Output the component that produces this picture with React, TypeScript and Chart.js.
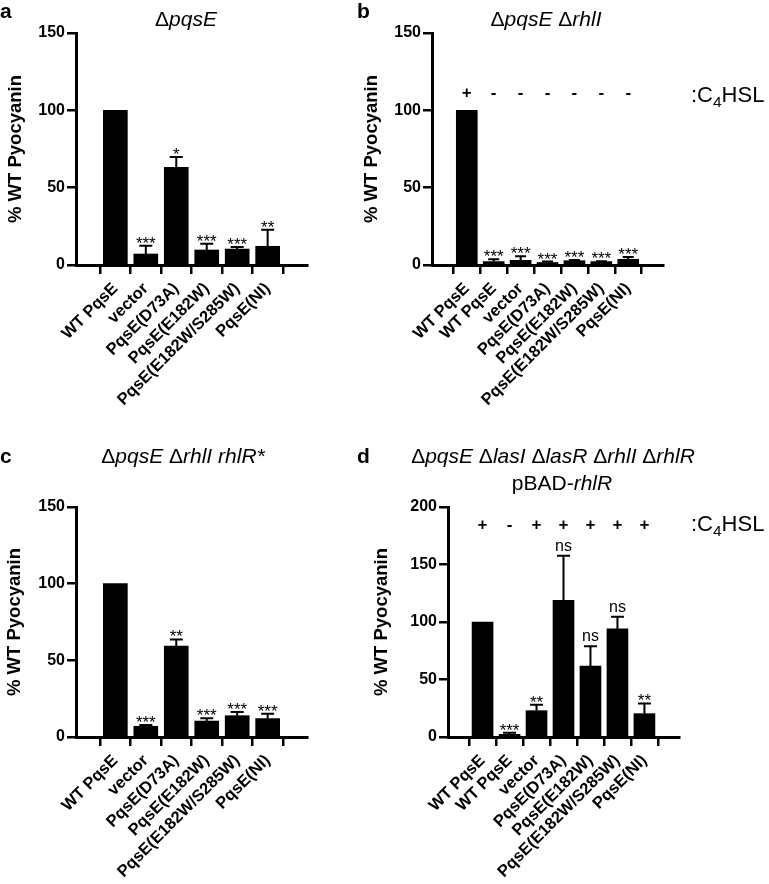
import React, { useEffect, useRef } from 'react';
import { Chart, registerables } from 'chart.js';

Chart.register(...registerables);

const FONT = '"Liberation Sans", Arial, Helvetica, sans-serif';
const W = 769;
const H = 884;

// ---------- data ----------
const labelsA = ['WT PqsE', 'vector', 'PqsE(D73A)', 'PqsE(E182W)', 'PqsE(E182W/S285W)', 'PqsE(NI)'];
const valuesA = [100, 7.1, 63.1, 9.7, 10.3, 12.1];
const errorsA = [0, 5.4, 6.7, 4.1, 1.3, 10.7];
const sigA = ['', '***', '*', '***', '***', '**'];

const labelsB = ['WT PqsE', 'WT PqsE', 'vector', 'PqsE(D73A)', 'PqsE(E182W)', 'PqsE(E182W/S285W)', 'PqsE(NI)'];
const valuesB = [100, 2.2, 3.0, 1.6, 2.8, 2.2, 3.7];
const errorsB = [0, 1.5, 2.6, 0.6, 0.4, 0.3, 1.4];
const sigB = ['', '***', '***', '***', '***', '***', '***'];
const c4hslB = ['+', '-', '-', '-', '-', '-', '-'];

const labelsC = ['WT PqsE', 'vector', 'PqsE(D73A)', 'PqsE(E182W)', 'PqsE(E182W/S285W)', 'PqsE(NI)'];
const valuesC = [100, 7.0, 59.3, 10.4, 13.9, 12.0];
const errorsC = [0, 0.8, 4.3, 1.8, 2.4, 3.2];
const sigC = ['', '***', '**', '***', '***', '***'];

const labelsD = ['WT PqsE', 'WT PqsE', 'vector', 'PqsE(D73A)', 'PqsE(E182W)', 'PqsE(E182W/S285W)', 'PqsE(NI)'];
const valuesD = [100, 2.3, 22.9, 118.9, 61.6, 94.0, 20.3];
const errorsD = [0, 1.5, 5.2, 38.8, 17.4, 10.5, 8.9];
const sigD = ['', '***', '**', 'ns', 'ns', 'ns', '**'];
const c4hslD = ['+', '-', '+', '+', '+', '+', '+'];

const yTitle = '% WT Pyocyanin';

type Seg = [string, boolean];

const titleA: Seg[][] = [[['Δ', false], ['pqsE', true]]];
const titleB: Seg[][] = [[['Δ', false], ['pqsE', true], [' ', false], ['Δ', false], ['rhlI', true]]];
const titleC: Seg[][] = [[['Δ', false], ['pqsE', true], [' ', false], ['Δ', false], ['rhlI', true], [' ', false], ['rhlR*', true]]];
const titleD: Seg[][] = [
  [['Δ', false], ['pqsE', true], [' ', false], ['Δ', false], ['lasI', true], [' ', false], ['Δ', false], ['lasR', true], [' ', false], ['Δ', false], ['rhlI', true], [' ', false], ['Δ', false], ['rhlR', true]],
  [['pBAD-', false], ['rhlR', true]],
];

// ---------- layout / style per panel ----------
const panels = [
  {
    letter: 'a', letterX: 0, letterY: 18,
    labels: labelsA, values: valuesA, errors: errorsA, sig: sigA, signs: null as string[] | null,
    yMax: 150, area: { left: 76, right: 307, top: 33, bottom: 265 }, xMin: -0.66, xMax: 5.66,
    bar: 24, cap: 13, title: titleA, titlePos: [[186, 26]], yTitleX: 16,
    signValue: 0, c4Pos: [0, 0],
  },
  {
    letter: 'b', letterX: 357, letterY: 18,
    labels: labelsB, values: valuesB, errors: errorsB, sig: sigB, signs: c4hslB,
    yMax: 150, area: { left: 432, right: 663, top: 33, bottom: 265 }, xMin: -0.68, xMax: 6.68,
    bar: 21, cap: 11, title: titleB, titlePos: [[546, 26]], yTitleX: 372,
    signValue: 111, c4Pos: [691, 101.5],
  },
  {
    letter: 'c', letterX: 0, letterY: 463,
    labels: labelsC, values: valuesC, errors: errorsC, sig: sigC, signs: null as string[] | null,
    yMax: 150, area: { left: 76, right: 307, top: 507, bottom: 737 }, xMin: -0.66, xMax: 5.66,
    bar: 24, cap: 13, title: titleC, titlePos: [[183, 463]], yTitleX: 15,
    signValue: 0, c4Pos: [0, 0],
  },
  {
    letter: 'd', letterX: 357, letterY: 463,
    labels: labelsD, values: valuesD, errors: errorsD, sig: sigD, signs: c4hslD,
    yMax: 200, area: { left: 448, right: 679, top: 507, bottom: 737 }, xMin: -0.67, xMax: 6.67,
    bar: 21, cap: 13, title: titleD, titlePos: [[553, 463], [562, 490]], yTitleX: 382,
    signValue: 184, c4Pos: [691, 530.5],
  },
];

type PanelT = typeof panels[number];

function drawSegs(ctx: CanvasRenderingContext2D, segs: Seg[], cx: number, y: number, size: number) {
  const fonts = segs.map(([, it]) => `${it ? 'italic ' : ''}${size}px ${FONT}`);
  let total = 0;
  const ws = segs.map(([t], i) => {
    ctx.font = fonts[i];
    const w = ctx.measureText(t).width;
    total += w;
    return w;
  });
  let x = cx - total / 2;
  ctx.textAlign = 'left';
  ctx.textBaseline = 'alphabetic';
  segs.forEach(([t], i) => {
    ctx.font = fonts[i];
    ctx.fillText(t, x, y);
    x += ws[i];
  });
}

function makeChart(canvas: HTMLCanvasElement, p: PanelT) {
  const Y_W = 40;
  const overlay = {
    id: 'overlay' + p.letter,
    afterDatasetsDraw(chart: any) {
      const ctx: CanvasRenderingContext2D = chart.ctx;
      const meta = chart.getDatasetMeta(0);
      const ys = chart.scales.y;
      const xs = chart.scales.x;
      ctx.save();
      ctx.fillStyle = '#000';
      ctx.strokeStyle = '#000';
      meta.data.forEach((bar: any, i: number) => {
        const x = bar.x;
        const err = p.errors[i];
        const yTop = ys.getPixelForValue(p.values[i]);
        const yErr = ys.getPixelForValue(p.values[i] + err);
        if (err > 0) {
          ctx.lineWidth = 2;
          ctx.beginPath();
          ctx.moveTo(x, yTop);
          ctx.lineTo(x, yErr);
          ctx.moveTo(x - p.cap / 2, yErr);
          ctx.lineTo(x + p.cap / 2, yErr);
          ctx.stroke();
        }
        const s = p.sig[i];
        if (s) {
          ctx.textAlign = 'center';
          ctx.textBaseline = 'alphabetic';
          if (s === 'ns') {
            ctx.font = `16px ${FONT}`;
            ctx.fillText(s, x, yErr - 5);
          } else {
            ctx.font = `17px ${FONT}`;
            ctx.fillText(s, x, yErr + 3);
          }
        }
        if (p.signs) {
          ctx.textAlign = 'center';
          ctx.textBaseline = 'middle';
          ctx.font = `bold 17px ${FONT}`;
          ctx.fillText(p.signs[i], x, ys.getPixelForValue(p.signValue));
        }
      });
      // x category labels, rotated 45 degrees
      p.labels.forEach((lab, i) => {
        const x = xs.getPixelForValue(i);
        ctx.save();
        ctx.translate(x, p.area.bottom + 21);
        ctx.rotate(-Math.PI / 4);
        ctx.textAlign = 'right';
        ctx.textBaseline = 'middle';
        ctx.font = `bold 16.5px ${FONT}`;
        ctx.fillText(lab, 0, 0);
        ctx.restore();
      });
      if (p.signs) {
        ctx.textAlign = 'left';
        ctx.textBaseline = 'alphabetic';
        let x = p.c4Pos[0];
        const y = p.c4Pos[1];
        ctx.font = `22px ${FONT}`;
        ctx.fillText(':C', x, y);
        x += ctx.measureText(':C').width;
        ctx.font = `15.5px ${FONT}`;
        ctx.fillText('4', x, y + 5);
        x += ctx.measureText('4').width;
        ctx.font = `22px ${FONT}`;
        ctx.fillText('HSL', x, y);
      }
      // panel letter
      ctx.textAlign = 'left';
      ctx.textBaseline = 'alphabetic';
      ctx.font = `bold 21px ${FONT}`;
      ctx.fillText(p.letter, p.letterX, p.letterY);
      // titles
      p.title.forEach((line, li) => {
        drawSegs(ctx, line, p.titlePos[li][0], p.titlePos[li][1], 21);
      });
      // y title
      ctx.save();
      ctx.translate(p.yTitleX, (p.area.top + p.area.bottom) / 2);
      ctx.rotate(-Math.PI / 2);
      ctx.textAlign = 'center';
      ctx.textBaseline = 'middle';
      ctx.font = `bold 18.5px ${FONT}`;
      ctx.fillText(yTitle, 0, 0);
      ctx.restore();
      ctx.restore();
    },
  };

  return new Chart(canvas, {
    type: 'bar',
    data: {
      datasets: [
        {
          data: p.values.map((v, i) => ({ x: i, y: v })),
          backgroundColor: '#000',
          borderWidth: 0,
          barThickness: p.bar,
        } as any,
      ],
    },
    options: {
      responsive: false,
      maintainAspectRatio: false,
      animation: false,
      devicePixelRatio: 1,
      layout: {
        padding: {
          left: p.area.left - Y_W,
          top: p.area.top,
          right: W - p.area.right,
          bottom: 0,
        },
      },
      plugins: { legend: { display: false }, tooltip: { enabled: false }, title: { display: false } },
      scales: {
        x: {
          type: 'linear',
          min: p.xMin,
          max: p.xMax,
          afterBuildTicks: (s: any) => {
            s.ticks = p.labels.map((_, i) => ({ value: i }));
          },
          afterFit: (s: any) => {
            s.height = H - p.area.bottom;
          },
          grid: { display: true, drawOnChartArea: false, drawTicks: true, tickLength: 9, color: '#000', lineWidth: 2.5 },
          border: { display: true, color: '#000', width: 3 },
          ticks: { display: false, autoSkip: false },
        },
        y: {
          type: 'linear',
          min: 0,
          max: p.yMax,
          afterFit: (s: any) => {
            s.width = Y_W;
          },
          grid: { display: true, drawOnChartArea: false, drawTicks: true, tickLength: 9, color: '#000', lineWidth: 2.5 },
          border: { display: true, color: '#000', width: 3 },
          ticks: {
            stepSize: 50,
            padding: 2,
            color: '#000',
            font: { family: FONT, size: 16, weight: 'bold' },
          },
        },
      },
    } as any,
    plugins: [overlay],
  });
}

export default function App() {
  const refs = [useRef<HTMLCanvasElement>(null), useRef<HTMLCanvasElement>(null), useRef<HTMLCanvasElement>(null), useRef<HTMLCanvasElement>(null)];
  useEffect(() => {
    const charts = panels.map((p, i) => makeChart(refs[i].current!, p));
    return () => charts.forEach((c) => c.destroy());
  }, []);
  return (
    <div style={{ position: 'absolute', left: 0, top: 0, width: W, height: H, background: '#fff' }}>
      {refs.map((r, i) => (
        <canvas key={i} ref={r} width={W} height={H} style={{ position: 'absolute', left: 0, top: 0, width: W, height: H }} />
      ))}
    </div>
  );
}
